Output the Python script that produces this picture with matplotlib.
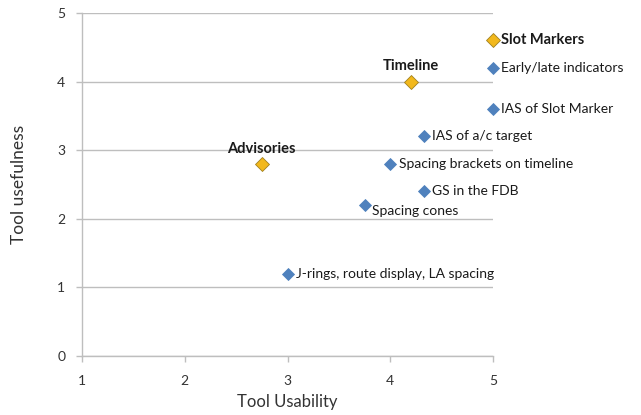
import matplotlib
matplotlib.use("Agg")
import matplotlib.pyplot as plt

labels = ["Slot Markers", "Early/late indicators", "Timeline", "IAS of Slot Marker",
          "IAS of a/c target", "Advisories", "Spacing brackets on timeline",
          "GS in the FDB", "Spacing cones", "J-rings, route display, LA spacing"]
usability = [5.0, 5.0, 4.2, 5.0, 4.33, 2.75, 4.0, 4.33, 3.75, 3.0]
usefulness = [4.6, 4.2, 4.0, 3.6, 3.2, 2.8, 2.8, 2.4, 2.2, 1.2]
highlight = [True, False, True, False, False, True, False, False, False, False]
x_ticks = [1, 2, 3, 4, 5]
y_ticks = [0, 1, 2, 3, 4, 5]

plt.rcParams['font.family'] = ['Lato', 'DejaVu Sans']

fig = plt.figure(figsize=(6.41, 4.15), dpi=100)
ax = fig.add_axes([82/641, 1 - 356/415, (493 - 82)/641, (356 - 13)/415])

blue = "#4F81BD"
gold = "#F2B81C"
grid = "#BEBEBE"

for x, y, lab, hl in zip(usability, usefulness, labels, highlight):
    ax.plot(x, y, marker="D", markersize=6.5 if not hl else 7.5,
            color=gold if hl else blue,
            markeredgecolor="#A08020" if hl else blue, markeredgewidth=0.6,
            linestyle="none", zorder=3, clip_on=False)
    if lab in ("Timeline", "Advisories"):
        ax.annotate(lab, (x, y), xytext=(0, 6), textcoords="offset points",
                    ha="center", va="bottom", fontsize=10.5, fontweight="bold",
                    color="#1a1a1a", annotation_clip=False)
    elif lab == "Spacing cones":
        ax.annotate(lab, (x, y), xytext=(5, -4), textcoords="offset points",
                    ha="left", va="center", fontsize=10, color="#1a1a1a",
                    annotation_clip=False)
    else:
        ax.annotate(lab, (x, y), xytext=(6, 0), textcoords="offset points",
                    ha="left", va="center", fontsize=10.5 if hl else 10,
                    fontweight="bold" if hl else "normal", color="#1a1a1a",
                    annotation_clip=False)

ax.set_xlim(1, 5)
ax.set_ylim(0, 5)
ax.set_xticks(x_ticks)
ax.set_yticks(y_ticks)
ax.yaxis.grid(True, color=grid, linewidth=1.0)
ax.set_axisbelow(True)
for s in ("top", "right"):
    ax.spines[s].set_visible(False)
for s in ("left", "bottom"):
    ax.spines[s].set_color(grid)
    ax.spines[s].set_linewidth(1.0)
ax.tick_params(axis="both", colors=grid, labelcolor="#333333", labelsize=10,
               length=4, width=1.0)
ax.tick_params(axis="x", pad=10)
ax.tick_params(axis="y", pad=8)
ax.set_xlabel("Tool Usability", fontsize=12, color="#333333", labelpad=5)
ax.set_ylabel("Tool usefulness", fontsize=12.5, color="#333333", labelpad=22)

fig.savefig("out.png", dpi=100)
